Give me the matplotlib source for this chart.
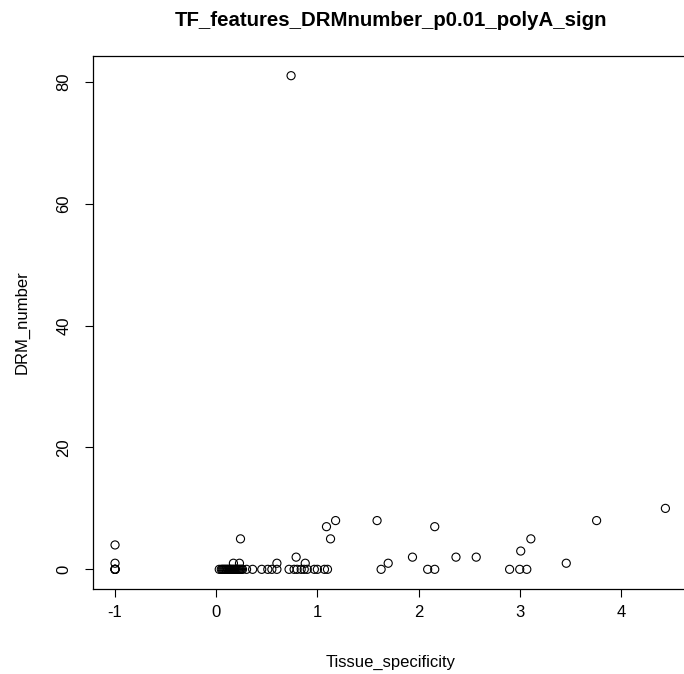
import matplotlib
matplotlib.use("Agg")
import matplotlib.pyplot as plt

plt.rcParams["font.family"] = ["Liberation Sans", "DejaVu Sans"]

# Tissue specificity score per TF and its DRM count
tissue_specificity = [
    -1.0, -1.0, -1.0, -1.0, -1.0, -1.0,
    0.03, 0.05, 0.06, 0.07, 0.08, 0.09, 0.10, 0.11, 0.12, 0.13, 0.14,
    0.15, 0.16, 0.17, 0.18, 0.19, 0.20, 0.21, 0.22, 0.23, 0.24, 0.25,
    0.26, 0.30, 0.36, 0.45, 0.51, 0.55, 0.60,
    0.17, 0.23, 0.24, 0.60,
    0.72, 0.77, 0.80, 0.84, 0.87, 0.90, 0.97, 1.00, 1.07, 1.10,
    0.74, 0.79, 0.88, 1.09, 1.13, 1.18,
    1.59, 1.63, 1.70, 1.94, 2.09, 2.16, 2.16, 2.37, 2.57,
    2.90, 3.00, 3.01, 3.07, 3.11, 3.46, 3.76, 4.44,
]
drm_number = [
    0, 0, 0, 0, 1, 4,
    0, 0, 0, 0, 0, 0, 0, 0, 0, 0, 0,
    0, 0, 0, 0, 0, 0, 0, 0, 0, 0, 0,
    0, 0, 0, 0, 0, 0, 0,
    1, 1, 5, 1,
    0, 0, 0, 0, 0, 0, 0, 0, 0, 0,
    81, 2, 1, 7, 5, 8,
    8, 0, 1, 2, 0, 0, 7, 2, 2,
    0, 0, 3, 0, 5, 1, 8, 10,
]

x_ticks = [-1, 0, 1, 2, 3, 4]
y_ticks = [0, 20, 40, 60, 80]

fig = plt.figure(figsize=(6.84, 6.74), dpi=100)
ax = fig.add_axes([0.136, 0.126, 0.869, 0.791])

ax.scatter(tissue_specificity, drm_number, s=34, facecolors="none",
           edgecolors="black", linewidths=0.8, clip_on=False)

# R-style 4% padding around the data range
xmin, xmax = min(tissue_specificity), max(tissue_specificity)
ymin, ymax = min(drm_number), max(drm_number)
xpad = 0.04 * (xmax - xmin)
ypad = 0.04 * (ymax - ymin)
ax.set_xlim(xmin - xpad, xmax + xpad)
ax.set_ylim(ymin - ypad, ymax + ypad)

ax.set_xticks(x_ticks)
ax.set_yticks(y_ticks)
ax.set_xticklabels([str(t) for t in x_ticks])
ax.set_yticklabels([str(t) for t in y_ticks], rotation=90, va="center")
ax.tick_params(direction="out", length=5.5, width=0.8, labelsize=12)
ax.tick_params(axis="x", pad=6)
ax.tick_params(axis="y", pad=10)

for sp in ax.spines.values():
    sp.set_linewidth(0.9)

ax.set_xlabel("Tissue_specificity", fontsize=12, labelpad=25)
ax.set_ylabel("DRM_number", fontsize=12, labelpad=19)
fig.text(0.571, 0.969, "TF_features_DRMnumber_p0.01_polyA_sign",
         ha="center", va="center", fontsize=14.7, fontweight="bold")

fig.savefig("out.png", dpi=100)
